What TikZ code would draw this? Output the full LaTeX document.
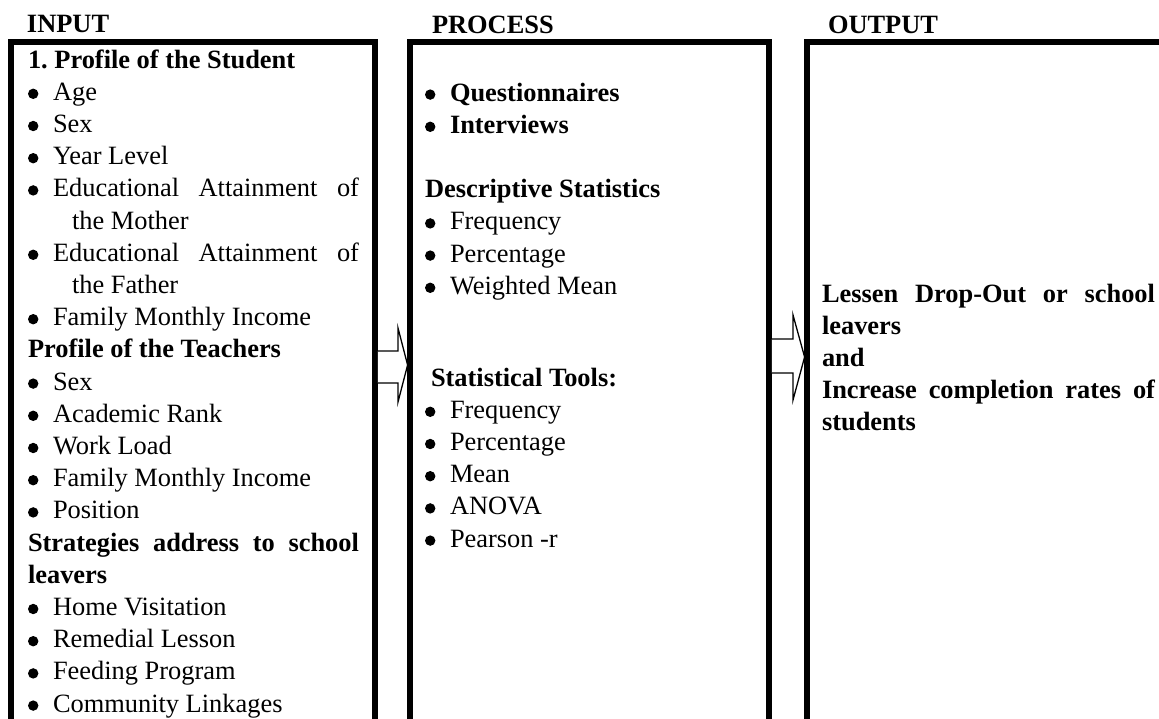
\documentclass[tikz,border=0pt]{standalone}
\usepackage{fontspec}
\setmainfont{Liberation Serif}
\usetikzlibrary{calc}
\frenchspacing

% round list bullet and list lines
\newcommand\dotglyph{\tikz[baseline=0pt]\fill (5.2pt,6.4pt) circle[radius=5.2pt];}
\newcommand\bul{\makebox[25pt][l]{\dotglyph}}
\newcommand\itm[1]{\bul#1\par}
\newcommand\itmwrap[3]{\bul\makebox[#1][s]{#2}\par\hspace*{44pt}#3\par}

\begin{document}
\begin{tikzpicture}[x=1pt,y=-1pt,
  txt/.style={anchor=base west, inner sep=0pt, outer sep=0pt,
              font=\fontsize{26.4}{32.2}\selectfont},
  frame/.style={draw, line width=5.8pt, inner sep=0pt, outer sep=0pt,
                anchor=north west, minimum height=720pt},
  blockarrow/.style={draw, fill=white, line width=1.3pt, line join=miter}]
\useasboundingbox (0,0) rectangle (1159,718);
\clip (0,0) rectangle (1159,718);

% column frames (open at the bottom and, for the last one, at the right)
\node[frame, minimum width=364pt] (inbox)   at (11,42)  {};
\node[frame, minimum width=359pt] (procbox) at (410,42) {};
\node[frame, minimum width=400pt] (outbox)  at (807,42) {};

% block arrows between the columns
\draw[blockarrow] ($(inbox.north east |- 0,351)+(2.9,0)$) -- (398,351) -- (398,328)
  -- ($(procbox.north west |- 0,365)+(-2.4,0)$) -- (398,402) -- (398,383)
  -- ($(inbox.north east |- 0,383)+(2.9,0)$);
\draw[blockarrow] ($(procbox.north east |- 0,339)+(2.9,0)$) -- (793,339) -- (793,315)
  -- ($(outbox.north west |- 0,357)+(-2.4,0)$) -- (793,400) -- (793,373)
  -- ($(procbox.north east |- 0,373)+(2.9,0)$);

% headings
\node[txt] (hin)   at (27,32)  {\textbf{INPUT}};
\node[txt] (hproc) at (432,33) {\textbf{PROCESS}};
\node[txt] (hout)  at (828,33) {\textbf{OUTPUT}};

% input column
\node[txt] (incol) at (28,68) {\parbox[t]{331pt}{%
\textbf{1. Profile of the Student}\par
\itm{Age}
\itm{Sex}
\itm{Year Level}
\itmwrap{306pt}{Educational Attainment of}{the Mother}
\itmwrap{306pt}{Educational Attainment of}{the Father}
\itm{Family Monthly Income}
\textbf{Profile of the Teachers}\par
\itm{Sex}
\itm{Academic Rank}
\itm{Work Load}
\itm{Family Monthly Income}
\itm{Position}
\makebox[331pt][s]{\textbf{Strategies address to school}}\par
\textbf{leavers}\par
\itm{Home Visitation}
\itm{Remedial Lesson}
\itm{Feeding Program}
\itm{Community Linkages}}};

% process column
\node[txt] (proctop) at (425,101) {\parbox[t]{330pt}{%
\itm{\textbf{Questionnaires}}
\itm{\textbf{Interviews}}
\mbox{}\par
\textbf{Descriptive Statistics}\par
\itm{Frequency}
\itm{Percentage}
\itm{Weighted Mean}}};

\node[txt] (proctools) at (425,386) {\parbox[t]{330pt}{%
\hspace*{6pt}\textbf{Statistical Tools:}\par
\itm{Frequency}
\itm{Percentage}
\itm{Mean}
\itm{ANOVA}
\itm{Pearson -r}}};

% output column
\node[txt] (outcol) at (822,302) {\parbox[t]{333pt}{\bfseries
\makebox[333pt][s]{Lessen Drop-Out or school}\par
leavers\par
and\par
\makebox[333pt][s]{Increase completion rates of}\par
students}};
\end{tikzpicture}
\end{document}
